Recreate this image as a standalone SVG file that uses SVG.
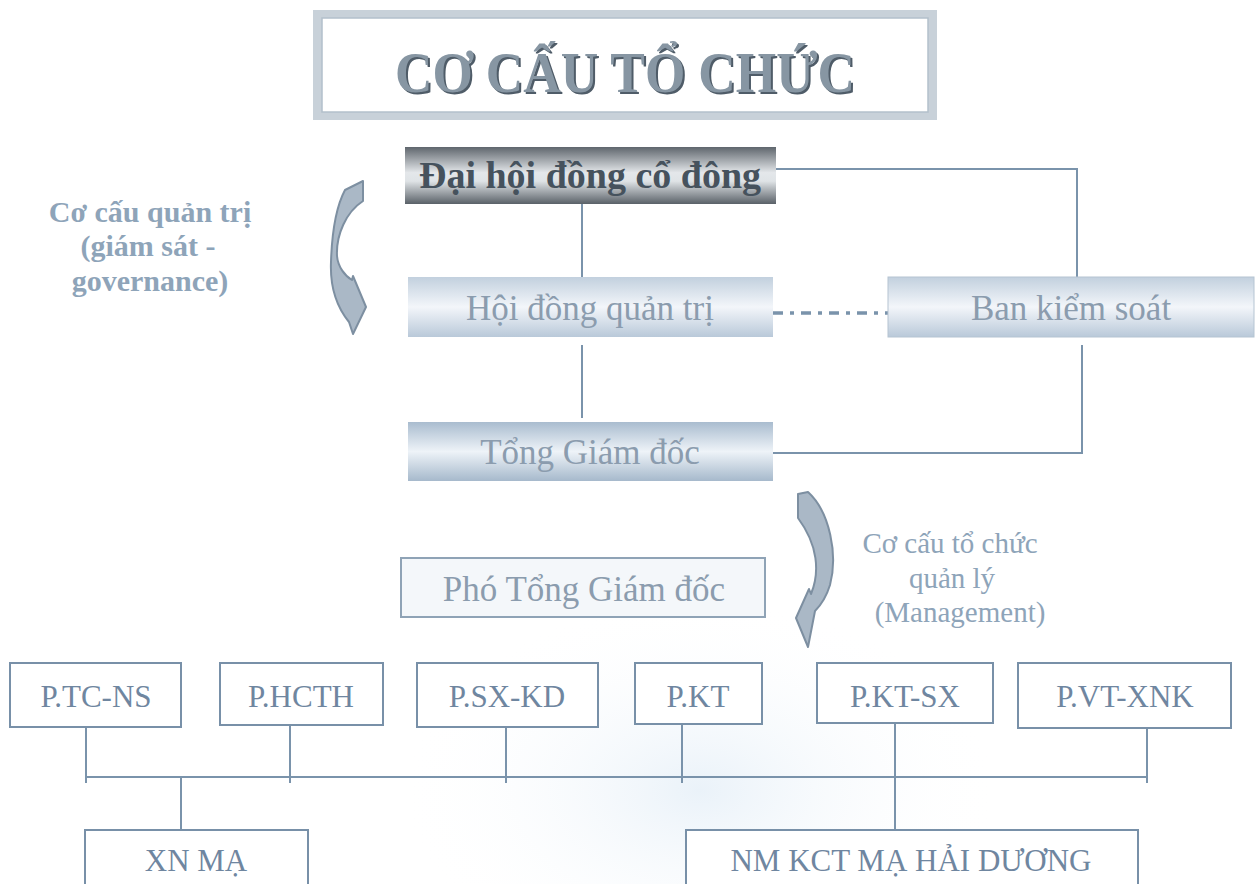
<svg xmlns="http://www.w3.org/2000/svg" width="1255" height="884" viewBox="0 0 1255 884">
<defs>
<linearGradient id="gDark" x1="0" y1="0" x2="0" y2="1">
<stop offset="0" stop-color="#5f666d"/>
<stop offset="0.45" stop-color="#e4e7ea"/>
<stop offset="0.6" stop-color="#dfe3e6"/>
<stop offset="1" stop-color="#5a6168"/>
</linearGradient>
<linearGradient id="gBlue" x1="0" y1="0" x2="0" y2="1">
<stop offset="0" stop-color="#c2d0de"/>
<stop offset="0.5" stop-color="#f3f6fa"/>
<stop offset="1" stop-color="#b9c9d9"/>
</linearGradient>
<linearGradient id="gBlue2" x1="0" y1="0" x2="0" y2="1">
<stop offset="0" stop-color="#a9bccf"/>
<stop offset="0.5" stop-color="#eef3f8"/>
<stop offset="1" stop-color="#a6b9cc"/>
</linearGradient>
<radialGradient id="haze" cx="0.5" cy="0.5" r="0.5">
<stop offset="0" stop-color="#eaf2f9"/>
<stop offset="1" stop-color="#ffffff" stop-opacity="0"/>
</radialGradient>
<style>
.serif{font-family:"Liberation Serif","DejaVu Serif",serif;}
.box{fill:#ffffff;stroke:#7890a8;stroke-width:2;}
.btxt{font-family:"Liberation Serif","DejaVu Serif",serif;font-size:31px;fill:#6f86a0;text-anchor:middle;}
.mtxt{font-family:"Liberation Serif","DejaVu Serif",serif;font-size:35px;fill:#8b9cae;text-anchor:middle;}
.ln{fill:none;stroke:#7a93ab;stroke-width:2;}
.side{font-family:"Liberation Serif","DejaVu Serif",serif;fill:#8ea4b9;text-anchor:middle;}
.arrow{fill:#aab8c6;stroke:#7d8fa1;stroke-width:2;stroke-linejoin:round;}
</style>
</defs>
<rect x="0" y="0" width="1255" height="884" fill="#ffffff"/>
<ellipse cx="700" cy="790" rx="300" ry="190" fill="url(#haze)"/>

<g id="title">
<rect x="313" y="10" width="624" height="110" fill="#c8d1d9"/>
<rect x="322" y="18" width="606" height="94" fill="#ffffff" stroke="#b3c0cb" stroke-width="1.5"/>
<text x="627" y="94" class="serif" font-size="58" font-weight="bold" text-anchor="middle" fill="#4f5c68" textLength="460" lengthAdjust="spacingAndGlyphs">CƠ CẤU TỔ CHỨC</text>
<text x="625" y="92" class="serif" font-size="58" font-weight="bold" text-anchor="middle" fill="#8796a3" textLength="460" lengthAdjust="spacingAndGlyphs">CƠ CẤU TỔ CHỨC</text>
</g>

<g id="connectors">
<polyline class="ln" points="776,169 1077,169 1077,277"/>
<line class="ln" x1="582" y1="204" x2="582" y2="277"/>
<line class="ln" x1="582" y1="345" x2="582" y2="418"/>
<polyline class="ln" points="1082,345 1082,453 773,453"/>
<line x1="773" y1="313" x2="888" y2="313" stroke="#7a93ab" stroke-width="3.5" stroke-dasharray="10 7 4 7"/>
<line class="ln" x1="86" y1="777" x2="1147" y2="777"/>
<line class="ln" x1="86" y1="727" x2="86" y2="783"/>
<line class="ln" x1="290" y1="725" x2="290" y2="783"/>
<line class="ln" x1="506" y1="727" x2="506" y2="783"/>
<line class="ln" x1="682" y1="724" x2="682" y2="783"/>
<line class="ln" x1="895" y1="723" x2="895" y2="830"/>
<line class="ln" x1="1147" y1="728" x2="1147" y2="783"/>
<line class="ln" x1="181" y1="777" x2="181" y2="830"/>
</g>

<g id="arrow-governance">
<path class="arrow" d="M 345,190 L 363,181 L 363,201 C 346,212 336,235 337,256 C 338,267 345,276 352,280 L 353,276 L 366,307 L 353,334 L 349,322 C 336,306 330,285 331,262 C 332,230 337,205 345,190 Z"/>
</g>
<g id="arrow-management">
<path class="arrow" d="M 798,494 L 808,492 C 830,512 838,555 830,585 C 826,598 820,606 815,611 L 808,647 L 796,618 L 809,589 L 811,594 C 820,572 818,545 798,518 Z"/>
</g>

<g id="label-governance">
<text class="side" font-size="30" font-weight="bold" x="150" y="222">Cơ cấu quản trị</text>
<text class="side" font-size="30" font-weight="bold" x="148" y="256">(giám sát -</text>
<text class="side" font-size="30" font-weight="bold" x="150" y="291">governance)</text>
</g>
<g id="label-management">
<text class="side" font-size="29" x="950" y="553">Cơ cấu tổ chức</text>
<text class="side" font-size="29" x="952" y="588">quản lý</text>
<text class="side" font-size="29" x="960" y="622">(Management)</text>
</g>

<g id="dhdcd">
<rect x="405" y="147" width="371" height="57" fill="url(#gDark)"/>
<text x="590" y="188" class="serif" font-size="38" font-weight="bold" text-anchor="middle" fill="#46525d">Đại hội đồng cổ đông</text>
</g>
<g id="hdqt">
<rect x="408" y="277" width="365" height="60" fill="url(#gBlue)"/>
<text x="590" y="320" class="mtxt">Hội đồng quản trị</text>
</g>
<g id="bks">
<rect x="888" y="277" width="366" height="60" fill="url(#gBlue)" stroke="#b5c4d2" stroke-width="1"/>
<text x="1071" y="320" class="mtxt">Ban kiểm soát</text>
</g>
<g id="tgd">
<rect x="408" y="422" width="365" height="59" fill="url(#gBlue2)"/>
<text x="590" y="464" class="mtxt">Tổng Giám đốc</text>
</g>
<g id="ptgd">
<rect x="401" y="558" width="364" height="59" fill="#f4f7fa" stroke="#8fa3b6" stroke-width="2"/>
<text x="584" y="601" class="mtxt">Phó Tổng Giám đốc</text>
</g>

<g id="p-tc-ns"><rect class="box" x="10" y="663" width="171" height="64"/><text class="btxt" x="96" y="707">P.TC-NS</text></g>
<g id="p-hcth"><rect class="box" x="220" y="663" width="163" height="62"/><text class="btxt" x="301" y="707">P.HCTH</text></g>
<g id="p-sx-kd"><rect class="box" x="417" y="663" width="181" height="64"/><text class="btxt" x="507" y="707">P.SX-KD</text></g>
<g id="p-kt"><rect class="box" x="635" y="663" width="127" height="61"/><text class="btxt" x="698" y="707">P.KT</text></g>
<g id="p-kt-sx"><rect class="box" x="817" y="663" width="176" height="60"/><text class="btxt" x="905" y="707">P.KT-SX</text></g>
<g id="p-vt-xnk"><rect class="box" x="1018" y="663" width="213" height="65"/><text class="btxt" x="1125" y="707">P.VT-XNK</text></g>
<g id="xn-ma"><rect class="box" x="85" y="830" width="223" height="70"/><text class="btxt" x="196" y="871">XN MẠ</text></g>
<g id="nm-kct"><rect class="box" x="686" y="830" width="452" height="70"/><text class="btxt" x="911" y="871" font-size="32">NM KCT MẠ HẢI DƯƠNG</text></g>
</svg>
